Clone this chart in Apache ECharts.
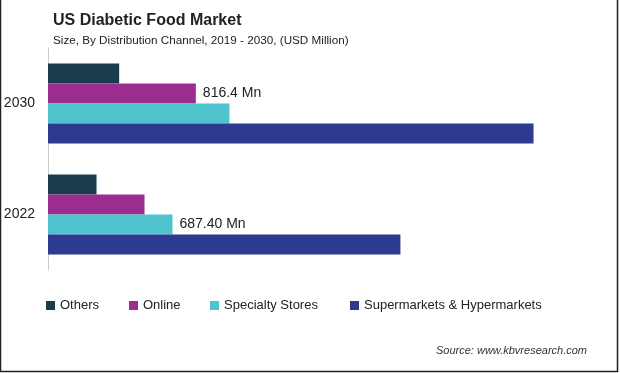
<!DOCTYPE html>
<html>
<head>
<meta charset="utf-8">
<script src="https://cdn.jsdelivr.net/npm/echarts@6/dist/echarts.min.js"></script>
<style>
html,body{margin:0;padding:0;background:#fff;}
#chart{width:620px;height:373px;}
</style>
</head>
<body>
<div id="chart"></div>
<script>
const categories = ['2022', '2030'];
const seriesNames = ['Others', 'Online', 'Specialty Stores', 'Supermarkets & Hypermarkets'];
const others = [268, 393];
const online = [533, 816.4];
const specialty = [687.4, 1002];
const supermarkets = [1946, 2681];
const onlineLabels = ['', '816.4 Mn'];
const specialtyLabels = ['687.40 Mn', ''];
const colors = ['#1a3d4e', '#9b2d8e', '#4fc4cf', '#2c3a8f'];

const chart = echarts.init(document.getElementById('chart'));
const labelFont = {fontFamily: 'Liberation Sans Narrow, Liberation Sans, Arial', fontSize: 14, color: '#222'};

function mkSeries(name, data, color, labels) {
  const s = {
    name: name, type: 'bar', data: data, barGap: '0%', barCategoryGap: '28%',
    itemStyle: {color: color}, silent: true
  };
  if (labels) {
    s.label = {
      show: true, position: 'right', distance: 7, ...labelFont,
      formatter: p => labels[p.dataIndex]
    };
  }
  return s;
}

const legendLefts = [41, 124, 205, 345];
const legends = seriesNames.map((n, i) => ({
  data: [n], left: legendLefts[i], top: 294, itemWidth: 9, itemHeight: 9, itemGap: 0,
  icon: 'rect', selectedMode: false,
  textStyle: {fontFamily: 'Liberation Sans, Arial', fontSize: 13, color: '#222'}
}));

chart.setOption({
  animation: false,
  color: colors,
  title: {
    text: 'US Diabetic Food Market',
    subtext: 'Size, By Distribution Channel, 2019 - 2030, (USD Million)',
    left: 48, top: 8, itemGap: 6,
    textStyle: {fontFamily: 'Liberation Sans, Arial', fontSize: 16, fontWeight: 'bold', color: '#222'},
    subtextStyle: {fontFamily: 'Liberation Sans, Arial', fontSize: 11.7, color: '#222'}
  },
  legend: legends,
  grid: {left: 48, top: 48, height: 222, width: 543.3},
  xAxis: {type: 'value', min: 0, max: 3000, show: false},
  yAxis: {
    type: 'category', data: categories,
    axisLine: {show: true, lineStyle: {color: '#cccccc'}},
    axisTick: {show: false},
    axisLabel: {margin: 13, fontFamily: 'Liberation Sans, Arial', fontSize: 14, color: '#222'}
  },
  series: [
    mkSeries(seriesNames[0], others, colors[0]),
    mkSeries(seriesNames[1], online, colors[1], onlineLabels),
    mkSeries(seriesNames[2], specialty, colors[2], specialtyLabels),
    mkSeries(seriesNames[3], supermarkets, colors[3])
  ],
  graphic: [
    {type: 'text', right: 33, top: 345, style: {text: 'Source: www.kbvresearch.com', fontFamily: 'Liberation Sans, Arial', fontStyle: 'italic', fontSize: 11, fill: '#333'}},
    {type: 'polyline', shape: {points: [[0.5, 0], [0.5, 371.5], [617.5, 371.5], [617.5, 0]]}, style: {stroke: '#222', lineWidth: 1.5, fill: null}}
  ]
});
</script>
</body>
</html>
